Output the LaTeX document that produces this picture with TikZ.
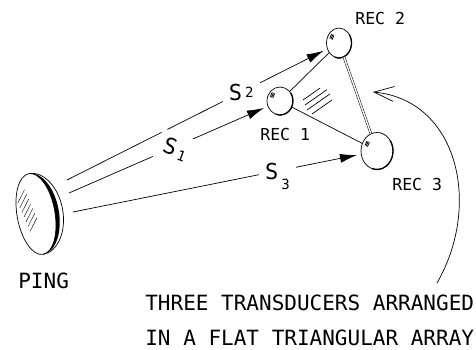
\documentclass[tikz,border=0pt]{standalone}
\usepackage{fontspec}
\newfontfamily\cadfont{DejaVu Sans Mono}
\usetikzlibrary{arrows.meta,shapes.geometric}

\tikzset{
  rec/.style={draw, ellipse, inner sep=0pt},
  rim/.style={line width=1.3pt},
  sig/.style={shorten >=4pt, -{Latex[length=17pt,width=9pt]}},
  slab/.style={fill=white, inner sep=6pt, font=\cadfont\fontsize{22}{22}\selectfont},
  lbl/.style={anchor=base west, inner sep=0pt, font=\cadfont\fontsize{16.5}{16.5}\selectfont},
  big/.style={anchor=base west, inner sep=0pt, font=\cadfont\fontsize{21}{21}\selectfont},
}
% small index next to the S of a path label
\newcommand\idx[2]{\kern3pt\raisebox{#1}{\fontsize{14}{14}\selectfont #2}}

\begin{document}
\begin{tikzpicture}[x=1pt, y=-1pt, line width=0.7pt]
    \useasboundingbox (0,0) rectangle (476,350);

    % Ping source, a disc seen edge on
    \begin{scope}[shift={(36,214)}, rotate=10]
    \draw (0,0) ellipse [x radius=19pt, y radius=41pt];
    \fill (0pt,41pt) arc[start angle=90, end angle=-90, x radius=19pt, y radius=41pt]
        arc[start angle=-90, end angle=90, x radius=23pt, y radius=41pt] -- cycle;
    \draw (0pt,41pt) arc[start angle=90, end angle=-90, x radius=27pt, y radius=41pt];
    \foreach \i in {0,...,6}
        \draw[thin] (-16pt+\i*1.2pt, 14pt-\i*5pt) -- ++(9pt,12pt);
    \end{scope}
    \coordinate (p2) at (67,180);
    \coordinate (p1) at (69,193);
    \coordinate (p3) at (73,212);

    % Receivers
    \node[rec, minimum width=26pt, minimum height=28pt] (rec1) at (280,101) {};
    \node[rec, minimum width=25pt, minimum height=30pt] (rec2) at (339,43) {};
    \node[rec, minimum width=32pt, minimum height=37pt] (rec3) at (377,151) {};
    \foreach \rc/\a/\b in {rec1/13pt/14pt, rec2/12.5pt/15pt, rec3/16pt/18.5pt} {
        \draw[rim] (\rc.center) ++(35:{\a} and {\b}) arc[start angle=35, end angle=-110, x radius=\a, y radius=\b];
        \foreach \k in {0pt,1.2pt,2.4pt}
            \draw[line width=0.8pt] ([shift={(-0.75*\a+\k, 0.3*\b-0.5*\k)}]\rc.center) -- ++(2pt,4.5pt);
    }

    % Array frame
    \draw (rec1) -- (rec2);
    \draw (rec1) -- (rec3);
    \draw[double, double distance=1.4pt, line width=0.5pt] (rec2) -- (rec3);
    \foreach \x/\y/\u in {23pt/1pt/17pt, 25pt/-4pt/22pt, 27pt/-9pt/23pt, 32pt/-13pt/20pt}
        \draw ([shift={(\x,\y)}]rec1.center) -- ++(\u,0.7*\u);

    % Paths from the ping
    \draw[sig] (p2) -- node[slab, pos=0.67] {S\idx{3pt}{2}} (rec2);
    \draw[sig] (p1) -- node[slab, pos=0.54, rotate=-20, yshift=-3pt] {S\idx{-3pt}{1}} (rec1);
    \draw[sig] (p3) -- node[slab, pos=0.71, yshift=-5pt] {S\idx{-10pt}{3}} (rec3);

    % Labels
    \node[lbl] (lrec1) at (260,140) {REC 1};
    \node[lbl] (lrec2) at (355,25) {REC 2};
    \node[lbl] (lrec3) at (392,190) {REC 3};
    \node[big] (lping) at (18,288) {PING};
    \node[big] (note1) at (145,310) {THREE TRANSDUCERS ARRANGED};
    \node[big] (note2) at (145,345) {IN A FLAT TRIANGULAR ARRAY};

    % Pointer to the array
    \coordinate (tail) at (437,283);
    \coordinate (tip) at (373,92);
    \draw[-{Straight Barb[length=20pt,width=15pt]}] (tail) .. controls (482,205) and (458,100) .. (tip);
\end{tikzpicture}
\end{document}
